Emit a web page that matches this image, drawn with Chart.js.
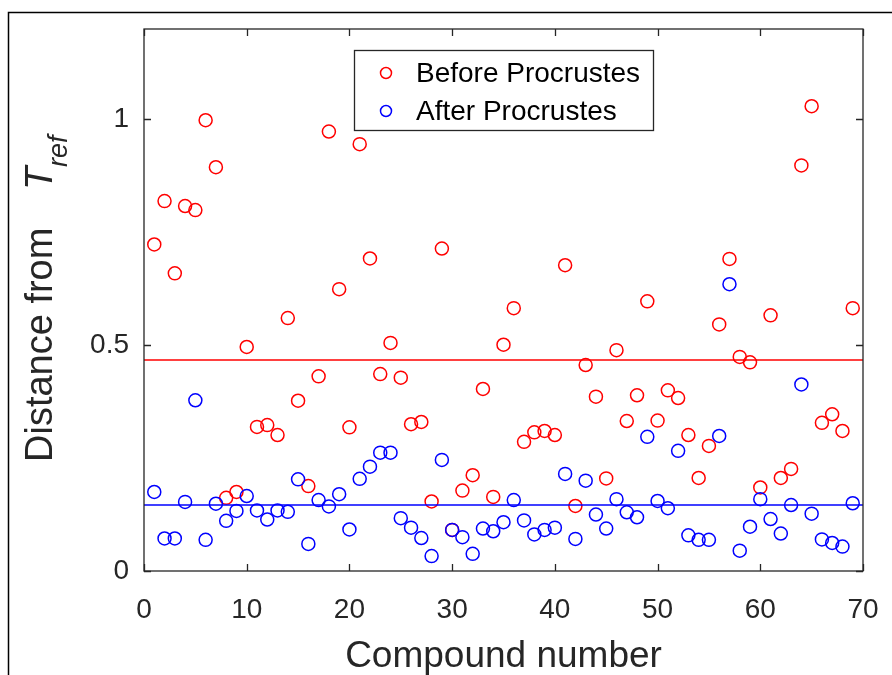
<!DOCTYPE html>
<html>
<head>
<meta charset="utf-8">
<script src="https://cdn.jsdelivr.net/npm/chart.js@4.4.1/dist/chart.umd.min.js"></script>
<style>
  html, body { margin: 0; padding: 0; background: #fff; }
</style>
</head>
<body>
<canvas id="chart" width="892" height="675"></canvas>
<script>
// Data
const compounds = [1, 2, 3, 4, 5, 6, 7, 8, 9, 10, 11, 12, 13, 14, 15, 16, 17, 18, 19, 20,
    21, 22, 23, 24, 25, 26, 27, 28, 29, 30, 31, 32, 33, 34, 35, 36, 37, 38, 39, 40,
    41, 42, 43, 44, 45, 46, 47, 48, 49, 50, 51, 52, 53, 54, 55, 56, 57, 58, 59, 60,
    61, 62, 63, 64, 65, 66, 67, 68, 69];
const beforeValues = [0.723, 0.819, 0.659, 0.808, 0.799, 0.998, 0.894, 0.162, 0.175, 0.496,
    0.319, 0.323, 0.301, 0.560, 0.377, 0.188, 0.431, 0.973, 0.624, 0.318,
    0.945, 0.692, 0.436, 0.505, 0.428, 0.325, 0.330, 0.154, 0.714, 0.091,
    0.178, 0.212, 0.403, 0.164, 0.501, 0.582, 0.286, 0.307, 0.310, 0.301,
    0.677, 0.144, 0.456, 0.386, 0.205, 0.489, 0.332, 0.389, 0.597, 0.333,
    0.400, 0.383, 0.301, 0.206, 0.277, 0.546, 0.691, 0.474, 0.462, 0.185,
    0.566, 0.206, 0.226, 0.898, 1.029, 0.328, 0.347, 0.310, 0.582];
const afterValues = [0.175, 0.072, 0.072, 0.153, 0.378, 0.069, 0.149, 0.111, 0.133, 0.166,
    0.134, 0.114, 0.134, 0.131, 0.203, 0.060, 0.157, 0.143, 0.170, 0.092,
    0.204, 0.231, 0.262, 0.262, 0.117, 0.096, 0.073, 0.033, 0.246, 0.091,
    0.075, 0.038, 0.094, 0.088, 0.108, 0.157, 0.112, 0.081, 0.091, 0.096,
    0.215, 0.071, 0.200, 0.125, 0.094, 0.159, 0.130, 0.119, 0.297, 0.155,
    0.139, 0.266, 0.079, 0.069, 0.069, 0.299, 0.635, 0.045, 0.098, 0.159,
    0.115, 0.083, 0.146, 0.413, 0.127, 0.070, 0.062, 0.054, 0.150];
const beforeMean = 0.467;
const afterMean = 0.146;
const xRange = [0, 70];
const xTicks = [0, 10, 20, 30, 40, 50, 60, 70];
const yTicks = [0, 0.5, 1];

const RED = 'rgb(255,0,0)';
const BLUE = 'rgb(0,0,255)';
const INK = '#262626';
const FONT = '"Liberation Sans", Arial, Helvetica, sans-serif';

function points(values) {
    return compounds.map((c, i) => ({ x: c, y: values[i] }));
}
function meanLine(v) {
    return xRange.map(x => ({ x: x, y: v }));
}

// box, inward ticks on all four sides, legend, outer frame and the y label
const decorations = {
    id: 'decorations',
    afterDraw(chart) {
        const ctx = chart.ctx;
        const a = chart.chartArea;
        const xs = chart.scales.x, ys = chart.scales.y;
        ctx.save();

        // outer figure frame
        ctx.strokeStyle = '#000';
        ctx.lineWidth = 1.5;
        ctx.beginPath();
        ctx.moveTo(8.5, 675);
        ctx.lineTo(8.5, 12.5);
        ctx.lineTo(892, 12.5);
        ctx.stroke();

        // axes box
        ctx.strokeStyle = INK;
        ctx.lineWidth = 1.3;
        ctx.strokeRect(a.left, a.top, a.right - a.left, a.bottom - a.top);

        const len = 7;
        ctx.beginPath();
        xTicks.forEach(v => {
            const px = Math.round(xs.getPixelForValue(v)) + 0.5;
            ctx.moveTo(px, a.bottom); ctx.lineTo(px, a.bottom - len);
            ctx.moveTo(px, a.top); ctx.lineTo(px, a.top + len);
        });
        yTicks.forEach(v => {
            const py = Math.round(ys.getPixelForValue(v)) + 0.5;
            ctx.moveTo(a.left, py); ctx.lineTo(a.left + len, py);
            ctx.moveTo(a.right, py); ctx.lineTo(a.right - len, py);
        });
        ctx.stroke();

        // legend
        ctx.fillStyle = '#fff';
        ctx.fillRect(354, 50, 299, 80);
        ctx.strokeStyle = INK;
        ctx.lineWidth = 1.3;
        ctx.strokeRect(354.5, 50.5, 299, 80);
        const entries = [chart.data.datasets[0], chart.data.datasets[1]];
        ctx.font = '28px ' + FONT;
        ctx.textBaseline = 'middle';
        entries.forEach((ds, i) => {
            const cy = 73 + i * 38;
            ctx.strokeStyle = ds.borderColor;
            ctx.lineWidth = 1.5;
            ctx.beginPath();
            ctx.arc(386, cy, 5.5, 0, Math.PI * 2);
            ctx.stroke();
            ctx.fillStyle = '#000';
            ctx.fillText(ds.label, 416, cy + 1);
        });

        // y label with subscript
        ctx.translate(52, 462);
        ctx.rotate(-Math.PI / 2);
        ctx.fillStyle = INK;
        ctx.textBaseline = 'alphabetic';
        ctx.font = '38px ' + FONT;
        ctx.fillText('Distance from', 0, 0);
        ctx.font = 'italic 38px ' + FONT;
        ctx.fillText('T', 272, 0);
        ctx.font = 'italic 27px ' + FONT;
        ctx.fillText('ref', 295, 15);

        ctx.restore();
    }
};

new Chart(document.getElementById('chart').getContext('2d'), {
    type: 'scatter',
    data: {
        datasets: [{
            label: 'Before Procrustes',
            data: points(beforeValues),
            borderColor: RED,
            backgroundColor: 'rgba(0,0,0,0)',
            pointRadius: 6.5,
            pointBorderWidth: 1.5,
            order: 4
        }, {
            label: 'After Procrustes',
            data: points(afterValues),
            borderColor: BLUE,
            backgroundColor: 'rgba(0,0,0,0)',
            pointRadius: 6.5,
            pointBorderWidth: 1.5,
            order: 3
        }, {
            label: 'Before mean',
            data: meanLine(beforeMean),
            showLine: true,
            borderColor: RED,
            borderWidth: 1.5,
            pointRadius: 0,
            order: 2
        }, {
            label: 'After mean',
            data: meanLine(afterMean),
            showLine: true,
            borderColor: BLUE,
            borderWidth: 1.5,
            pointRadius: 0,
            order: 1
        }]
    },
    options: {
        responsive: false,
        animation: false,
        layout: {
            padding: { top: 29, right: 29, left: 0, bottom: 0 }
        },
        plugins: {
            legend: { display: false },
            tooltip: { enabled: false }
        },
        scales: {
            x: {
                type: 'linear',
                min: 0,
                max: 70,
                afterFit: s => {
                    s.height = 104;
                    s.paddingLeft = 0;
                    s.paddingRight = 0;
                },
                afterBuildTicks: s => { s.ticks = xTicks.map(v => ({ value: v })); },
                grid: { display: false, drawTicks: false },
                border: { display: false },
                ticks: {
                    padding: 22,
                    color: INK,
                    font: { family: FONT, size: 28 },
                    maxRotation: 0,
                    callback: v => String(v)
                },
                title: {
                    display: true,
                    text: 'Compound number',
                    color: INK,
                    font: { family: FONT, size: 37, lineHeight: 1 },
                    padding: { top: 0, bottom: 0 }
                }
            },
            y: {
                type: 'linear',
                min: 0,
                max: 1.2,
                afterFit: s => {
                    s.width = 144;
                    s.paddingTop = 0;
                    s.paddingBottom = 0;
                },
                afterBuildTicks: s => { s.ticks = yTicks.map(v => ({ value: v })); },
                grid: { display: false, drawTicks: false },
                border: { display: false },
                ticks: {
                    padding: 15,
                    color: INK,
                    font: { family: FONT, size: 28 },
                    callback: v => String(v)
                }
            }
        }
    },
    plugins: [decorations]
});
</script>
</body>
</html>
